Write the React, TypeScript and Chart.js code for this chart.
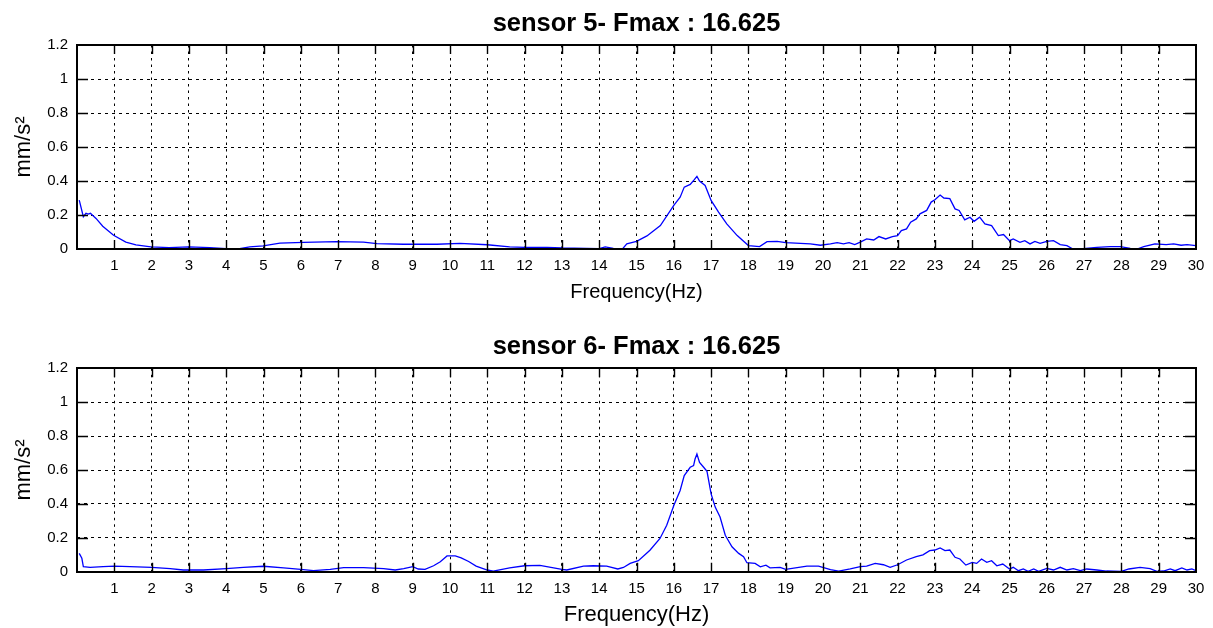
import React, { useEffect, useRef } from 'react';
import { Chart, registerables } from 'chart.js';

Chart.register(...registerables);

// ---------- data ----------
const TITLE_5 = 'sensor 5- Fmax : 16.625';
const TITLE_6 = 'sensor 6- Fmax : 16.625';
const X_LABEL = 'Frequency(Hz)';
const Y_LABEL = 'mm/s²';
const X_MIN = 0;
const X_MAX = 30;
const Y_MIN = 0;
const Y_MAX = 1.2;
const X_STEP = 1;
const Y_STEP = 0.2;

const FREQ_5 = [
  0.06, 0.17, 0.24, 0.3, 0.36, 0.51, 0.69, 0.98, 1.31, 1.58, 1.98, 2.47, 3.0, 3.56, 4.0, 4.36, 4.63, 4.99,
  5.44, 6.07, 6.96, 7.68, 8.04, 8.75, 9.65, 10.27, 11.0, 11.6, 12.0, 12.6, 13.0, 13.66, 14.0, 14.16, 14.38,
  14.63, 14.74, 15.0, 15.28, 15.64, 16.0, 16.17, 16.28, 16.44, 16.55, 16.62, 16.69, 16.84, 17.0, 17.2, 17.42,
  17.7, 18.0, 18.3, 18.5, 18.77, 19.0, 19.66, 19.93, 20.2, 20.38, 20.55, 20.7, 20.85, 21.0, 21.17, 21.36, 21.5,
  21.68, 21.86, 22.0, 22.1, 22.24, 22.35, 22.5, 22.6, 22.78, 22.9, 23.0, 23.14, 23.24, 23.4, 23.54, 23.65,
  23.8, 23.94, 24.05, 24.2, 24.34, 24.52, 24.7, 24.84, 25.0, 25.1, 25.28, 25.41, 25.55, 25.68, 25.82, 26.0,
  26.18, 26.36, 26.54, 26.7, 26.97, 27.34, 27.7, 27.97, 28.24, 28.42, 28.6, 28.9, 29.2, 29.4, 29.6, 29.76, 30.0,
];
const AMP_5 = [
  0.287, 0.19, 0.21, 0.205, 0.21, 0.18, 0.134, 0.081, 0.041, 0.024, 0.012, 0.008, 0.013, 0.008, 0.002, 0.002, 0.012, 0.018,
  0.035, 0.039, 0.043, 0.041, 0.032, 0.028, 0.028, 0.033, 0.025, 0.012, 0.01, 0.01, 0.006, 0.004, 0.002, 0.012, 0.004,
  0.002, 0.03, 0.045, 0.077, 0.138, 0.256, 0.305, 0.364, 0.38, 0.408, 0.427, 0.4, 0.374, 0.286, 0.217, 0.148,
  0.079, 0.02, 0.014, 0.043, 0.045, 0.037, 0.03, 0.022, 0.03, 0.037, 0.03, 0.037, 0.026, 0.04, 0.059, 0.053, 0.073,
  0.059, 0.073, 0.079, 0.108, 0.118, 0.158, 0.177, 0.207, 0.227, 0.276, 0.29, 0.317, 0.3, 0.296, 0.236, 0.227,
  0.171, 0.187, 0.163, 0.187, 0.148, 0.138, 0.079, 0.085, 0.049, 0.059, 0.039, 0.049, 0.03, 0.045, 0.033, 0.045,
  0.049, 0.026, 0.02, 0.0, 0.002, 0.01, 0.014, 0.014, 0.004, 0.0, 0.014, 0.03, 0.026, 0.03, 0.022, 0.026, 0.02,
];

const FREQ_6 = [
  0.06, 0.13, 0.17, 0.35, 0.7, 1.0, 1.42, 2.0, 2.5, 2.85, 3.39, 4.0, 4.46, 5.0, 5.54, 6.0, 6.34, 6.79, 7.15,
  7.68, 8.22, 8.53, 8.76, 9.0, 9.15, 9.33, 9.56, 9.74, 9.92, 10.14, 10.3, 10.5, 10.7, 11.0, 11.16, 11.6, 12.0,
  12.41, 13.0, 13.13, 13.58, 13.84, 14.2, 14.5, 14.65, 14.83, 15.05, 15.36, 15.63, 15.81, 16.0, 16.17, 16.28,
  16.44, 16.53, 16.57, 16.62, 16.69, 16.8, 16.89, 17.0, 17.11, 17.24, 17.38, 17.56, 17.74, 17.87, 17.96, 18.18,
  18.32, 18.47, 18.58, 18.85, 19.0, 19.57, 19.88, 20.2, 20.42, 20.73, 21.0, 21.17, 21.4, 21.62, 21.8, 22.0,
  22.24, 22.5, 22.68, 22.86, 23.0, 23.14, 23.27, 23.4, 23.54, 23.67, 23.83, 24.0, 24.12, 24.25, 24.39, 24.52,
  24.66, 24.82, 25.0, 25.1, 25.24, 25.37, 25.5, 25.65, 25.78, 26.0, 26.18, 26.36, 26.54, 26.71, 26.9, 27.07,
  27.34, 27.6, 28.0, 28.2, 28.5, 28.77, 28.95, 29.13, 29.31, 29.44, 29.62, 29.76, 29.89, 30.0,
];
const AMP_6 = [
  0.108, 0.079, 0.03, 0.026, 0.03, 0.033, 0.03, 0.026, 0.018, 0.01, 0.01, 0.018, 0.026, 0.032, 0.022, 0.014, 0.006, 0.014, 0.024,
  0.024, 0.018, 0.01, 0.018, 0.03, 0.016, 0.014, 0.035, 0.059, 0.093, 0.093, 0.082, 0.06, 0.033, 0.01, 0.004, 0.023, 0.035,
  0.037, 0.014, 0.01, 0.033, 0.035, 0.033, 0.016, 0.025, 0.049, 0.065, 0.127, 0.196, 0.274, 0.391, 0.479, 0.567,
  0.616, 0.626, 0.665, 0.694, 0.645, 0.616, 0.592, 0.459, 0.381, 0.323, 0.215, 0.147, 0.108, 0.088, 0.053, 0.049,
  0.029, 0.039, 0.023, 0.025, 0.014, 0.033, 0.033, 0.012, 0.004, 0.016, 0.03, 0.033, 0.049, 0.041, 0.026, 0.041,
  0.069, 0.089, 0.099, 0.124, 0.128, 0.14, 0.124, 0.128, 0.085, 0.075, 0.039, 0.055, 0.049, 0.075, 0.055, 0.065,
  0.035, 0.045, 0.016, 0.026, 0.006, 0.016, 0.002, 0.016, 0.002, 0.02, 0.01, 0.026, 0.01, 0.018, 0.006, 0.016,
  0.01, 0.004, 0.002, 0.016, 0.026, 0.018, 0.002, 0.004, 0.016, 0.006, 0.022, 0.01, 0.016, 0.006,
];

// ---------- styling ----------
const FONT = '"Liberation Sans", Arial, Helvetica, sans-serif';
const CANVAS_W = 1213;
const CANVAS_H = 314;

type Layout = {
  titleTop: number;
  titleBottom: number;
  xScaleHeight: number;
  xTitleSize: number;
  xTitlePadBottom: number;
};

const TITLE_SIZE = 25.5;
const LAYOUT_5: Layout = { titleTop: 8.2, titleBottom: 6.2, xScaleHeight: 65, xTitleSize: 20, xTitlePadBottom: 10 };
const LAYOUT_6: Layout = { titleTop: 17.2, titleBottom: 6.5, xScaleHeight: 56.3, xTitleSize: 22, xTitlePadBottom: 0 };

const frameTickPlugin = {
  id: 'frameTicks',
  afterDraw(chart: any) {
    const { ctx, chartArea: a, scales } = chart;
    const xs = scales.x;
    const ys = scales.y;
    const TLX = 9;
    const TLY = 11;
    ctx.save();
    ctx.strokeStyle = '#000';
    ctx.lineWidth = 1.4;
    ctx.beginPath();
    xs.ticks.forEach((t: any) => {
      if (t.value <= X_MIN || t.value >= X_MAX) return;
      const px = Math.round(xs.getPixelForValue(t.value)) + 0.5;
      ctx.moveTo(px, a.bottom);
      ctx.lineTo(px, a.bottom - TLX);
      ctx.moveTo(px, a.top);
      ctx.lineTo(px, a.top + TLX);
    });
    ys.ticks.forEach((t: any) => {
      if (t.value <= Y_MIN + 1e-9 || t.value >= Y_MAX - 1e-9) return;
      const py = Math.round(ys.getPixelForValue(t.value)) + 0.5;
      ctx.moveTo(a.left, py);
      ctx.lineTo(a.left + TLY, py);
      ctx.moveTo(a.right, py);
      ctx.lineTo(a.right - TLY, py);
    });
    ctx.stroke();
    ctx.lineWidth = 2;
    ctx.strokeRect(Math.round(a.left), Math.round(a.top), Math.round(a.right) - Math.round(a.left), Math.round(a.bottom) - Math.round(a.top));
    ctx.restore();
  },
};

function SensorChart({ title, freq, amp, layout }: { title: string; freq: number[]; amp: number[]; layout: Layout }) {
  const ref = useRef<HTMLCanvasElement | null>(null);
  useEffect(() => {
    if (!ref.current) return;
    const chart = new Chart(ref.current, {
      type: 'line',
      data: {
        datasets: [
          {
            data: freq.map((f, i) => ({ x: f, y: amp[i] })),
            borderColor: '#0000ff',
            borderWidth: 1.3,
            pointRadius: 0,
            tension: 0,
            fill: false,
          },
        ],
      },
      plugins: [frameTickPlugin],
      options: {
        animation: false,
        responsive: false,
        devicePixelRatio: 1,
        events: [],
        layout: { padding: { left: 0, right: 17, top: 0, bottom: 0 } },
        plugins: {
          legend: { display: false },
          tooltip: { enabled: false },
          title: {
            display: true,
            text: title,
            fullSize: false,
            color: '#000',
            font: { family: FONT, size: TITLE_SIZE, weight: 'bold' },
            padding: { top: layout.titleTop, bottom: layout.titleBottom },
          },
        },
        scales: {
          x: {
            type: 'linear',
            min: X_MIN,
            max: X_MAX,
            afterFit: (s: any) => {
              s.height = layout.xScaleHeight;
            },
            border: { display: false, dash: [2.5, 4] },
            grid: { color: '#000', lineWidth: 1, drawTicks: false, drawOnChartArea: true },
            ticks: {
              stepSize: X_STEP,
              autoSkip: false,
              maxRotation: 0,
              padding: 8,
              color: '#000',
              font: { family: FONT, size: 15 },
              callback: (v: any) => (Number(v) === X_MIN ? '' : String(v)),
            },
            title: {
              display: true,
              text: X_LABEL,
              color: '#000',
              font: { family: FONT, size: layout.xTitleSize },
              padding: { top: 0, bottom: layout.xTitlePadBottom },
            },
          },
          y: {
            type: 'linear',
            min: Y_MIN,
            max: Y_MAX,
            afterFit: (s: any) => {
              s.width = 77;
            },
            border: { display: false, dash: [3, 4] },
            grid: { color: '#000', lineWidth: 1, drawTicks: false },
            ticks: {
              stepSize: Y_STEP,
              padding: 9,
              color: '#000',
              font: { family: FONT, size: 15 },
              callback: (v: any) => String(Math.round(Number(v) * 10) / 10),
            },
            title: {
              display: true,
              text: Y_LABEL,
              color: '#000',
              font: { family: FONT, size: 22 },
              padding: { top: 11, bottom: 0 },
            },
          },
        },
      } as any,
    });
    return () => chart.destroy();
  }, [title, freq, amp, layout]);
  return <canvas ref={ref} width={CANVAS_W} height={CANVAS_H} style={{ display: 'block', width: CANVAS_W, height: CANVAS_H }} />;
}

export default function App() {
  return (
    <div style={{ position: 'fixed', left: 0, top: 0, width: CANVAS_W, height: CANVAS_H * 2, background: '#fff' }}>
      <SensorChart title={TITLE_5} freq={FREQ_5} amp={AMP_5} layout={LAYOUT_5} />
      <SensorChart title={TITLE_6} freq={FREQ_6} amp={AMP_6} layout={LAYOUT_6} />
    </div>
  );
}
